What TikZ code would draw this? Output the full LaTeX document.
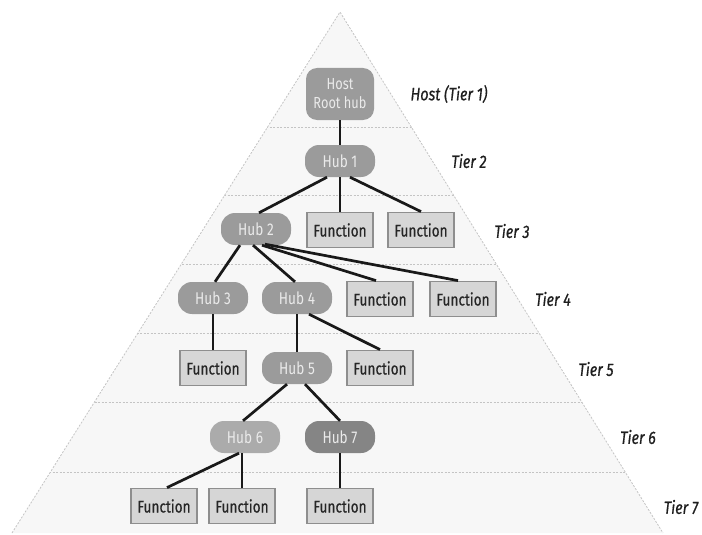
\documentclass[tikz,border=0pt]{standalone}
\usepackage{fontspec}
\setmainfont{Fira Sans}
\newfontfamily\condfont[FakeStretch=0.8]{Fira Sans}
\newfontfamily\condboldfont[FakeStretch=0.8,FakeBold=0.6]{Fira Sans}
\usetikzlibrary{calc}
\definecolor{pyrfill}{HTML}{F7F7F7}
\definecolor{pyredge}{HTML}{C4C4C4}
\definecolor{hubgray}{HTML}{9B9B9B}
\definecolor{hubdark}{HTML}{858585}
\definecolor{hublight}{HTML}{ABABAB}
\definecolor{hubtext}{HTML}{EAEAEA}
\definecolor{fnfill}{HTML}{D6D6D6}
\definecolor{fnedge}{HTML}{8E8E8E}
\definecolor{labeltext}{HTML}{1E1E1E}
\tikzset{
  hub/.style={fill=hubgray, draw=none, rounded corners=14pt,
    minimum width=70pt, minimum height=32pt, inner sep=0pt,
    text=hubtext, font=\condfont\fontsize{17}{18}\selectfont},
  hostbox/.style={hub, rounded corners=11pt, minimum width=68pt,
    minimum height=52pt, align=center, font=\condfont\fontsize{16}{19}\selectfont},
  fnbox/.style={fill=fnfill, draw=fnedge, line width=1.8pt,
    minimum width=66pt, minimum height=35pt, inner sep=0pt,
    text=black!85, font=\condboldfont\fontsize{17}{18}\selectfont},
  tierlabel/.style={text=labeltext, inner sep=0pt,
    font=\condboldfont\itshape\fontsize{18}{19}\selectfont},
  link/.style={draw=black!90, line width=2.7pt},
  sep/.style={draw=pyredge, line width=0.8pt, dash pattern=on 2pt off 1.5pt},
}
\begin{document}
\begin{tikzpicture}[x=1pt,y=-1pt]
\useasboundingbox (0,0) rectangle (702,535);

% pyramid body
\coordinate (apex) at (340,12);
\coordinate (bl) at (12,533);
\coordinate (br) at (663,533);
\fill[pyrfill] (apex) -- (bl) -- (br) -- cycle;
\draw[sep] (bl) -- (apex) -- (br);

% tier separators, clipped to the pyramid
\begin{scope}
  \clip (apex) -- (bl) -- (br) -- cycle;
  \foreach \yy in {127,195,264,333,402,472}
    \draw[sep] (0,\yy) -- (702,\yy);
\end{scope}

% tier 1
\node[hostbox] (host) at (340,94) {Host\\Root hub};
% tier 2
\node[hub] (hub1) at (340,161) {Hub 1};
% tier 3
\node[hub] (hub2) at (256,229) {Hub 2};
\node[fnbox] (f31) at (340,230) {Function};
\node[fnbox] (f32) at (421,230) {Function};
% tier 4
\node[hub] (hub3) at (213,298) {Hub 3};
\node[hub] (hub4) at (297,298) {Hub 4};
\node[fnbox] (f41) at (380,299) {Function};
\node[fnbox] (f42) at (463,299) {Function};
% tier 5
\node[fnbox] (f51) at (213,368) {Function};
\node[hub] (hub5) at (297,368) {Hub 5};
\node[fnbox] (f52) at (380,368) {Function};
% tier 6
\node[hub, fill=hublight] (hub6) at (245,437) {Hub 6};
\node[hub, fill=hubdark] (hub7) at (340,437) {Hub 7};
% tier 7
\node[fnbox] (f71) at (164,506) {Function};
\node[fnbox] (f72) at (242,506) {Function};
\node[fnbox] (f73) at (340,506) {Function};

% connectors
\draw[link] (host.south) -- (hub1.north);
\draw[link] ($(hub1.south)+(-13,0)$) -- ($(hub2.north)+(3,0)$);
\draw[link] (hub1.south) -- (f31.north);
\draw[link] ($(hub1.south)+(10,0)$) -- (f32.north);
\draw[link] ($(hub2.south)+(-16,0)$) -- ($(hub3.north)+(2,0)$);
\draw[link] ($(hub2.south)+(-3,0)$) -- ($(hub4.north)+(-2,0)$);
\draw[link] ($(hub2.south)+(6,0)$) -- ($(f41.north)+(-4,0)$);
\draw[link] ($(hub2.south)+(9,-1)$) -- ($(f42.north)+(-5,0)$);
\draw[link] (hub3.south) -- (f51.north);
\draw[link] (hub4.south) -- (hub5.north);
\draw[link] ($(hub4.south)+(12,0)$) -- (f52.north);
\draw[link] ($(hub5.south)+(-10,0)$) -- ($(hub6.north)+(-2,0)$);
\draw[link] ($(hub5.south)+(8,0)$) -- ($(hub7.north)+(0,0)$);
\draw[link] ($(hub6.south)+(-6,0)$) -- ($(f71.north)+(3,0)$);
\draw[link] ($(hub6.south)+(-3,0)$) -- (f72.north);
\draw[link] (hub7.south) -- (f73.north);

% tier labels
\node[tierlabel] (t1) at (449,94) {Host (Tier 1)};
\node[tierlabel] (t2) at (469,161) {Tier 2};
\node[tierlabel] (t3) at (512,231) {Tier 3};
\node[tierlabel] (t4) at (553,299) {Tier 4};
\node[tierlabel] (t5) at (596,369) {Tier 5};
\node[tierlabel] (t6) at (638,437) {Tier 6};
\node[tierlabel] (t7) at (681,507) {Tier 7};
\end{tikzpicture}
\end{document}
